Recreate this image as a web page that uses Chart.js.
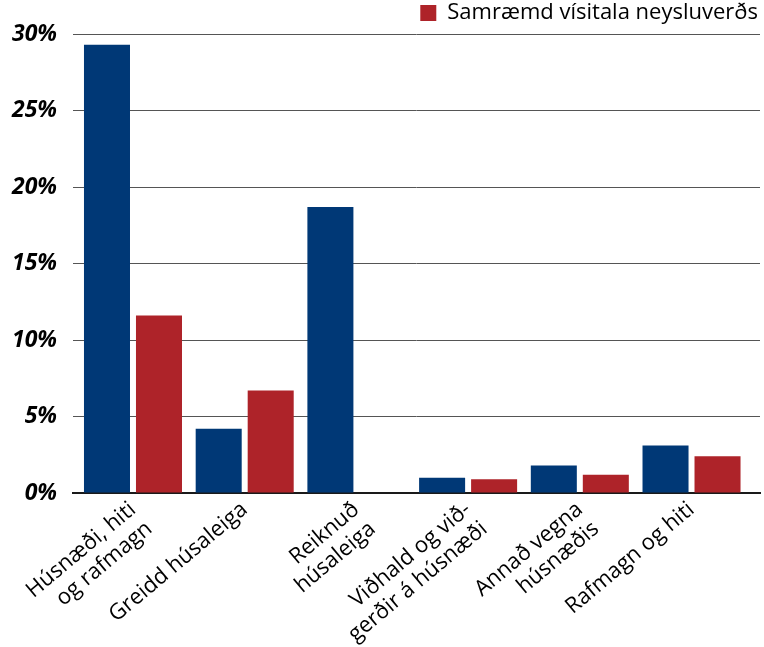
<!DOCTYPE html>
<html>
<head>
<meta charset="utf-8">
<script src="https://cdn.jsdelivr.net/npm/chart.js@4.4.1/dist/chart.umd.min.js"></script>
<style>
  html, body { margin: 0; padding: 0; background: #ffffff; }
  #wrap { width: 764px; height: 647px; }
</style>
</head>
<body>
<div id="wrap"><canvas id="c" width="764" height="647"></canvas></div>
<script>
const categories = [
  ["Húsnæði, hiti", "og rafmagn"],
  "Greidd húsaleiga",
  ["Reiknuð", "húsaleiga"],
  ["Viðhald og við-", "gerðir á húsnæði"],
  ["Annað vegna", "húsnæðis"],
  "Rafmagn og hiti"
];
const seriesNames = ["Vísitala neysluverðs", "Samræmd vísitala neysluverðs"];
const vnvValues = [29.3, 4.2, 18.7, 1.0, 1.8, 3.1];
const svnvValues = [11.6, 6.7, null, 0.9, 1.2, 2.4];
const yTickValues = [0, 5, 10, 15, 20, 25, 30];

const toPoints = arr => arr.map((v, i) => ({ x: i, y: v }));

new Chart(document.getElementById('c'), {
  type: 'bar',
  data: {
    datasets: [
      { label: seriesNames[0], data: toPoints(vnvValues), backgroundColor: '#003876' },
      { label: seriesNames[1], data: toPoints(svnvValues), backgroundColor: '#AE2329' }
    ]
  },
  options: {
    responsive: false,
    animation: false,
    devicePixelRatio: 1,
    barPercentage: 0.885,
    categoryPercentage: 0.931,
    layout: { padding: { left: 0, right: 4, top: 0, bottom: 0 } },
    plugins: {
      tooltip: { enabled: false },
      legend: {
        position: 'top',
        align: 'end',
        labels: {
          filter: item => item.datasetIndex === 1,
          boxWidth: 16,
          boxHeight: 16,
          padding: 2,
          color: '#000000',
          font: { family: 'Open Sans', size: 22 }
        }
      }
    },
    scales: {
      x: {
        type: 'linear',
        offset: false,
        min: -0.537,
        max: 5.613,
        grid: { display: false, offset: false },
        border: { display: true, color: '#1a1a1a', width: 2 },
        afterBuildTicks: axis => { axis.ticks = categories.map((_, i) => ({ value: i })); },
        afterFit: scale => { scale.height = 154; },
        ticks: {
          autoSkip: false,
          minRotation: 40,
          maxRotation: 40,
          padding: -4,
          color: '#000000',
          font: { family: 'Open Sans', size: 22, lineHeight: 1.15 },
          callback: v => categories[v]
        }
      },
      y: {
        min: 0,
        max: 30,
        afterBuildTicks: axis => { axis.ticks = yTickValues.map(v => ({ value: v })); },
        afterFit: scale => { scale.width = 73; },
        grid: { color: '#555555', lineWidth: 1, drawTicks: false },
        border: { display: false },
        ticks: {
          padding: 16,
          color: '#000000',
          font: { family: 'Open Sans', size: 23, weight: 'bold', style: 'italic' },
          callback: v => v + '%'
        }
      }
    }
  }
});
</script>
</body>
</html>
